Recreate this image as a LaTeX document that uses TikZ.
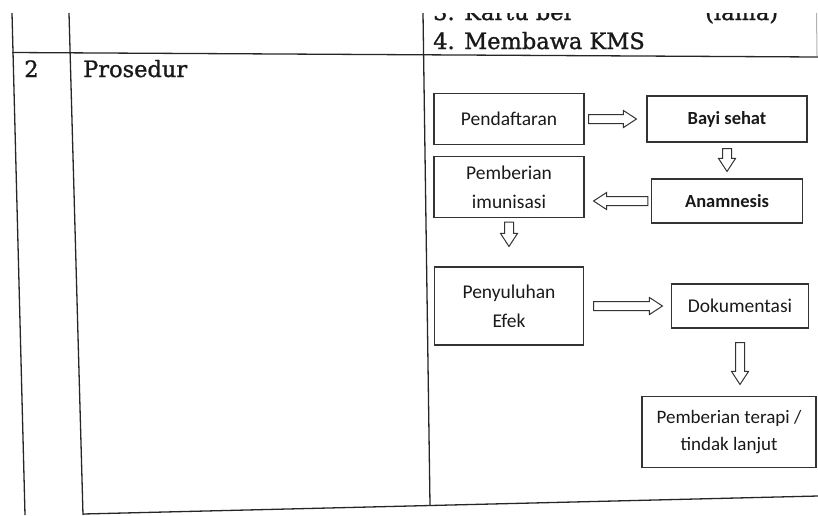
\documentclass[tikz,border=0pt]{standalone}
\usepackage{fontspec}
\setmainfont{DejaVu Serif}
\newfontfamily\tabfont{DejaVu Serif}[FakeBold=1.2]
\newfontfamily\boxfont{Carlito}
\usetikzlibrary{calc,positioning}

\tikzset{
  gapA/.store in=\gapA,
  gapB/.store in=\gapB,
  gapA=5pt,
  gapB=8pt,
  flowbox/.style={draw=black!80, line width=1.1pt, rectangle, align=center,
    inner sep=0pt, text=black!90, font=\boxfont\fontsize{19.5}{29}\selectfont},
  hollow/.style={draw=black!80, line width=1pt, fill=white, to path={
    ($(\tikztostart)!\gapA!(\tikztotarget)$) coordinate (s)
    ($(\tikztotarget)!\gapB!(\tikztostart)$) coordinate (e)
    ($(e)!13pt!(s)$) coordinate (h)
    ($(s)!4.5pt!90:(e)$) -- ($(h)!4.5pt!-90:(s)$) -- ($(h)!8.5pt!-90:(s)$) -- (e)
    -- ($(h)!8.5pt!90:(s)$) -- ($(h)!4.5pt!90:(s)$) -- ($(s)!4.5pt!-90:(e)$) -- cycle}},
  tabline/.style={line width=1.3pt, black!85},
  tabtext/.style={inner sep=0pt, text=black!90, font=\tabfont\fontsize{22.5}{29}\selectfont}
}

\begin{document}
\begin{tikzpicture}[x=1pt, y=1pt]
    \useasboundingbox (0,0) rectangle (818,-515);

    % TABLE
    \draw[tabline] (12,-13) -- (25,-515);
    \draw[tabline] (69,-13) -- (83,-515);
    \draw[tabline] (423,-13) -- (430,-505);
    \draw[tabline] (12,-52.5) -- (818,-57);
    \draw[tabline] (83,-514) -- (818,-496);
    \draw[black!30, line width=1pt] (816.5,-13) -- (817,-56);

    % cut off row above
    \begin{scope}
      \clip (0,-13) rectangle (818,-515);
      \node[tabtext, anchor=base west] (kartu) at (433,-20) {3. Kartu ber};
      \node[tabtext, anchor=base west] (lama) at (705,-20) {(lama)};
    \end{scope}
    \node[tabtext, anchor=base west] (kms) at (433,-49) {4. Membawa KMS};
    \node[tabtext, anchor=base] (no) at (31.5,-77) {2};
    \node[tabtext, anchor=base west] (prosedur) at (83,-77) {Prosedur};

    % NODES
    % first box
    \node[flowbox, minimum width=150pt, minimum height=51pt] (pend) at (509,-119) {Pendaftaran};
    % bayi sehat
    \node[flowbox, minimum width=160pt, minimum height=46pt, right of = pend, node distance = 218pt, font=\boxfont\bfseries\fontsize{18.5}{29}\selectfont] (bayi) {Bayi sehat};
    % anamnesis
    \node[flowbox, minimum width=151pt, minimum height=44pt, below of = bayi, node distance = 82pt, font=\boxfont\bfseries\fontsize{18.5}{29}\selectfont] (anam) {Anamnesis};
    % imunisasi
    \node[flowbox, minimum width=150pt, minimum height=61pt, below of = pend, node distance = 68pt] (pemb) {Pemberian\\imunisasi};
    % penyuluhan
    \node[flowbox, minimum width=149pt, minimum height=78pt, below of = pemb, node distance = 119pt] (peny) {Penyuluhan\\Efek};
    % dokumentasi
    \node[flowbox, minimum width=137pt, minimum height=44pt, right of = peny, node distance = 231pt] (dok) {Dokumentasi};
    % terapi
    \node[flowbox, minimum width=174pt, minimum height=71pt, below of = dok, node distance = 126pt, xshift=-11pt, font=\boxfont\fontsize{19}{27}\selectfont] (terapi) {Pemberian terapi /\\tindak lanjut};

    % ARROWS
    \draw[hollow, gapA=4pt, gapB=10pt] (pend.east) to (bayi.west);
    \draw[hollow, gapA=6pt, gapB=7pt] (bayi.south) to (anam.north);
    \draw[hollow, gapA=3pt, gapB=9pt] (anam.west) to (anam.west -| pemb.east);
    \draw[hollow, gapA=4pt, gapB=20pt] (pemb.south) to (pemb.south |- peny.north);
    \draw[hollow, gapA=9.5pt, gapB=8.5pt] (peny.east) to (dok.west);
    \draw[hollow, gapA=14pt, gapB=11.5pt] (dok.south) to (dok.south |- terapi.north);
\end{tikzpicture}
\end{document}
